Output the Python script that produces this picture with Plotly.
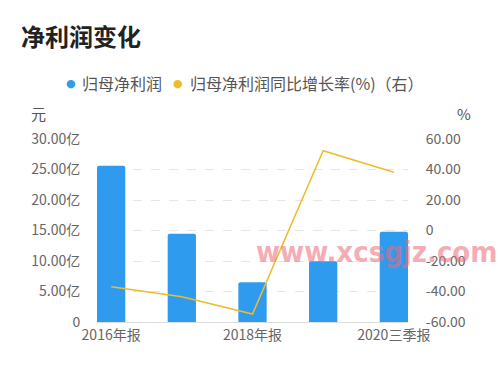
import plotly.graph_objects as go

categories = ["2016年报", "2017年报", "2018年报", "2019年报", "2020三季报"]
profit_yi = [25.6, 14.45, 6.5, 9.95, 14.8]
growth_pct = [-36.9, -43.4, -54.8, 52.3, 38.2]
left_ticks = [0, 5, 10, 15, 20, 25, 30]
left_ticktext = ["0", "5.00亿", "10.00亿", "15.00亿", "20.00亿", "25.00亿", "30.00亿"]
right_ticks = [-60, -40, -20, 0, 20, 40, 60]
right_ticktext = ["-60.00", "-40.00", "-20.00", "0", "20.00", "40.00", "60.00"]
shown_x = ["2016年报", "2018年报", "2020三季报"]
series_names = ["归母净利润", "归母净利润同比增长率(%)（右）"]

FONT = "Noto Sans CJK SC"
BLUE = "#2F9BEE"
GOLD = "#EDBB2C"

W, H = 500, 372
L, R, T, B = 97, 408, 139, 322


def px(xp):
    return (xp - L) / (R - L)


def py(yp):
    return (B - yp) / (B - T)


fig = go.Figure()
fig.add_trace(go.Bar(
    x=list(range(len(categories))), y=profit_yi, width=0.4, name=series_names[0],
    marker=dict(color=BLUE, cornerradius=2, line=dict(width=0)),
    showlegend=False, yaxis="y",
))
fig.add_trace(go.Scatter(
    x=list(range(len(categories))), y=growth_pct, mode="lines", name=series_names[1],
    line=dict(color=GOLD, width=1.5), showlegend=False, yaxis="y2",
))

fig.update_layout(
    width=W, height=H,
    margin=dict(l=L, r=W - R, t=T, b=H - B, autoexpand=False),
    paper_bgcolor="white", plot_bgcolor="white",
    font=dict(family=FONT, color="#666666", size=14),
    title=dict(text="<b>净利润变化</b>", x=21/W, xref="container", xanchor="left",
               y=1 - 38/H, yref="container", yanchor="middle",
               font=dict(family=FONT, size=24, color="#222222")),
    showlegend=False,
    xaxis=dict(range=[-0.2, 4.2], tickmode="array", automargin=False,
               tickvals=[categories.index(c) for c in shown_x], ticktext=shown_x,
               showgrid=False, showline=True, linecolor="#dddddd", linewidth=1,
               ticks="", zeroline=False, fixedrange=True,
               tickfont=dict(family=FONT, size=14, color="#666666")),
    yaxis=dict(range=[0, 30], tickmode="array", tickvals=left_ticks, ticktext=left_ticktext,
               automargin=False,
               showgrid=True, gridcolor="#e6e6e6", griddash="dash", gridwidth=1,
               zeroline=False, showline=False,
               ticks="outside", ticklen=13, tickcolor="rgba(0,0,0,0)",
               tickfont=dict(family=FONT, size=14, color="#666666")),
    yaxis2=dict(range=[-60, 60], overlaying="y", side="right", tickmode="array",
                automargin=False,
                tickvals=right_ticks, ticktext=right_ticktext, showgrid=False,
                zeroline=False, showline=False,
                ticks="outside", ticklen=14, tickcolor="rgba(0,0,0,0)",
                tickfont=dict(family=FONT, size=14, color="#666666")),
)

# legend built from annotations
legend_items = [(series_names[0], BLUE, 71, 80), (series_names[1], GOLD, 178, 188)]
for name, col, xd, xt in legend_items:
    fig.add_annotation(text="●", xref="paper", yref="paper", x=px(xd), y=py(83),
                       xanchor="center", yanchor="middle", showarrow=False,
                       font=dict(family="DejaVu Sans", size=11, color=col))
    fig.add_annotation(text=name, xref="paper", yref="paper", x=px(xt), y=py(83),
                       xanchor="left", yanchor="middle", showarrow=False,
                       font=dict(family=FONT, size=16, color="#555555"))

fig.add_annotation(text="元", xref="paper", yref="paper", x=px(38), y=py(113),
                   showarrow=False, font=dict(family=FONT, size=15, color="#555555"),
                   xanchor="center", yanchor="middle")
fig.add_annotation(text="%", xref="paper", yref="paper", x=px(464), y=py(113),
                   showarrow=False, font=dict(family=FONT, size=15, color="#555555"),
                   xanchor="center", yanchor="middle")
fig.add_annotation(text="<b>www.xcsgjz.com</b>", xref="paper", yref="paper",
                   x=px(499), y=py(252), xanchor="right", yanchor="middle",
                   showarrow=False, opacity=0.55,
                   font=dict(family="DejaVu Sans Condensed", size=29, color="#ee6a7a"))

fig.write_html("out.html", config={"displayModeBar": False},
               post_script="document.body.style.margin='0';")
